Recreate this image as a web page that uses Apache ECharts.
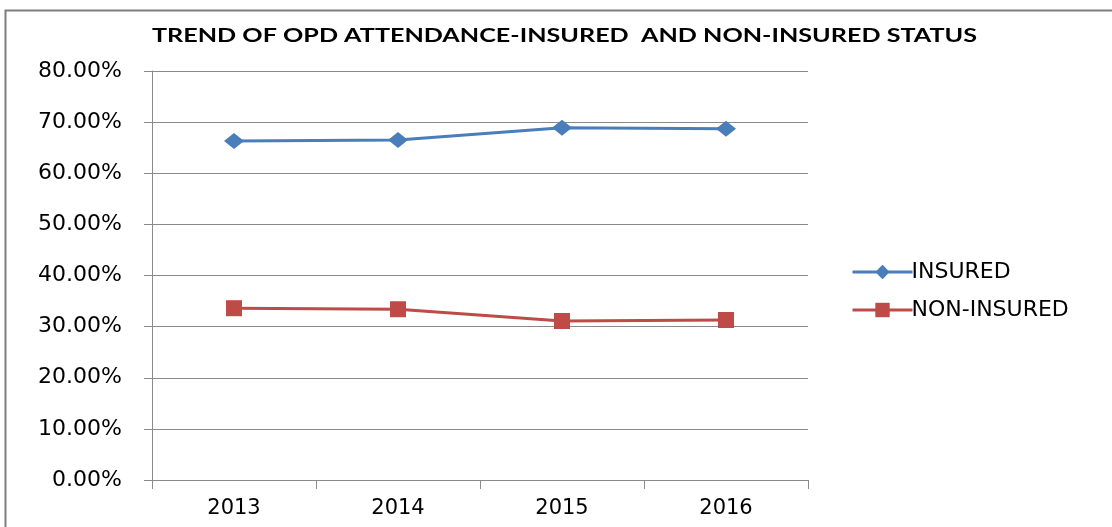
<!DOCTYPE html>
<html><head><meta charset="utf-8">
<script src="https://cdn.jsdelivr.net/npm/echarts@6/dist/echarts.min.js"></script>
<style>html,body{margin:0;padding:0;background:#fff}#c{width:1112px;height:527px}</style>
</head><body><div id="c"></div>
<script>
const categories = ['2013', '2014', '2015', '2016'];
const insured = [66.3, 66.5, 68.9, 68.7];
const nonInsured = [33.6, 33.4, 31.1, 31.3];
const yTicks = [0, 10, 20, 30, 40, 50, 60, 70, 80];
const titleText = 'TREND OF OPD ATTENDANCE-INSURED  AND NON-INSURED STATUS';

const titleFont = 'bold 19px Lato, "Open Sans", sans-serif';
const cv = document.createElement('canvas').getContext('2d');
cv.font = titleFont;
const titleW = cv.measureText(titleText).width;
const titleScale = 825 / titleW;

const chart = echarts.init(document.getElementById('c'));
chart.setOption({
  animation: false,
  backgroundColor: '#fff',
  graphic: [{
    type: 'rect', left: 3, top: 8, shape: { width: 1130, height: 540 },
    style: { fill: 'none', stroke: '#7f7f7f', lineWidth: 2 }, silent: true, z: -1
  }, {
    type: 'text', x: 152, y: 36, scaleX: titleScale, scaleY: 1,
    style: { text: titleText, font: titleFont, fill: '#000', textAlign: 'left', textVerticalAlign: 'middle' }
  }],
  legend: {
    orient: 'vertical', left: 846, top: 256, itemGap: 16,
    itemWidth: 60, itemHeight: 18,
    lineStyle: { width: 3 },
    textStyle: { fontFamily: '"DejaVu Sans", sans-serif', fontSize: 22, color: '#000', padding: [0, 0, 0, -6] },
    data: ['INSURED', 'NON-INSURED']
  },
  grid: { left: 152, right: 304, top: 71, bottom: 47, containLabel: false },
  xAxis: {
    type: 'category', data: categories, boundaryGap: true,
    axisLine: { lineStyle: { color: '#8a8a8a', width: 1 } },
    axisTick: { show: true, length: 9, lineStyle: { color: '#8a8a8a' } },
    axisLabel: { margin: 18, fontFamily: '"DejaVu Sans", sans-serif', fontSize: 21, color: '#000' }
  },
  yAxis: {
    type: 'value', min: 0, max: 80, interval: 10,
    axisLine: { show: true, lineStyle: { color: '#8a8a8a', width: 1 } },
    axisTick: { show: true, length: 8, inside: false, lineStyle: { color: '#8a8a8a' } },
    splitLine: { show: true, lineStyle: { color: '#8a8a8a', width: 1 } },
    axisLabel: {
      margin: 30, fontFamily: '"DejaVu Sans", sans-serif', fontSize: 22, color: '#000',
      formatter: v => yTicks.includes(v) ? v.toFixed(2) + '%' : ''
    }
  },
  series: [{
    name: 'INSURED', type: 'line', data: insured,
    symbol: 'diamond', symbolSize: [20, 16],
    lineStyle: { color: '#4A7EBB', width: 3 },
    itemStyle: { color: '#4A7EBB' }
  }, {
    name: 'NON-INSURED', type: 'line', data: nonInsured,
    symbol: 'rect', symbolSize: 16,
    lineStyle: { color: '#BE4B48', width: 3 },
    itemStyle: { color: '#BE4B48' }
  }]
});
</script></body></html>
